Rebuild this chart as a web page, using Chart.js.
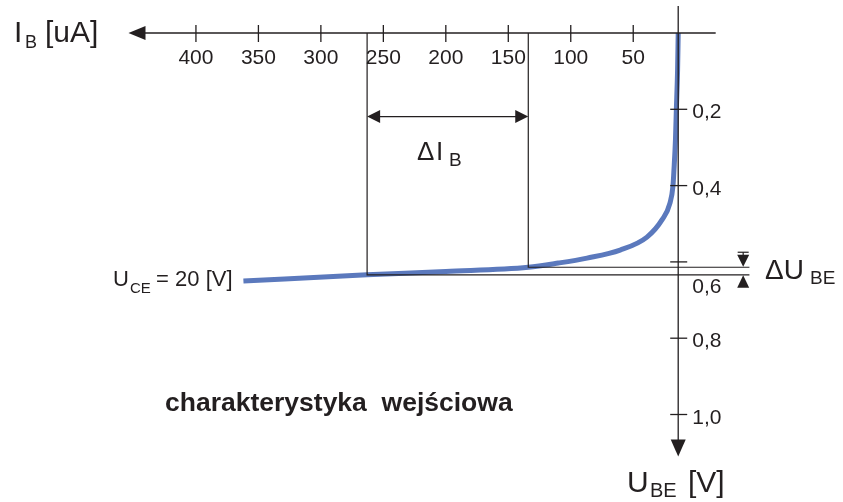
<!DOCTYPE html>
<html><head><meta charset="utf-8">
<script src="https://cdn.jsdelivr.net/npm/chart.js@4.4.1/dist/chart.umd.min.js"></script>
<style>html,body{margin:0;padding:0;background:#fff;overflow:hidden;}</style>
</head><body>
<canvas id="c" width="843" height="502"></canvas>
<script>
// ---- data ----
const ibTicks = [50, 100, 150, 200, 250, 300, 350, 400];
const ibTickLabels = ['50', '100', '150', '200', '250', '300', '350', '400'];
const ubeTicks = [0.2, 0.4, 0.6, 0.8, 1.0];
const ubeTickLabels = ['0,2', '0,4', '0,6', '0,8', '1,0'];
const curveIB  = [14, 14.5, 15.5, 16.2, 17.4, 18.2, 20.6, 27, 39, 60.5, 87, 110, 134, 200, 263, 362];
const curveUBE = [0, 0.097, 0.202, 0.28, 0.359, 0.401, 0.446, 0.49, 0.535, 0.569, 0.59, 0.603, 0.614, 0.625, 0.634, 0.65];
const deltaIB  = [134, 263];        // IB of the two construction lines
const deltaUBE = [0.614, 0.634];    // UBE at those points
const axisOriginIB = 14;            // where the UBE axis crosses the IB axis
const ibAxisExtent = [-16, 454];
const ubeAxisExtent = [-0.071, 1.11];
const constructionRightIB = -43;
const deltaIBArrowUBE = 0.219;
const deltaUBEArrowIB = -38;

const INK = '#231f20';
const BLUE = '#5b79bd';

const pts = (xs, ys) => xs.map((x, i) => ({x, y: ys[i]}));

const overlay = {
  id: 'overlay',
  afterDatasetsDraw(chart) {
    const ctx = chart.ctx, X = chart.scales.x, Y = chart.scales.y;
    const px = v => X.getPixelForValue(v), py = v => Y.getPixelForValue(v);
    ctx.save();
    ctx.strokeStyle = INK; ctx.fillStyle = INK; ctx.lineWidth = 1.3;
    const line = (x1, y1, x2, y2) => { ctx.beginPath(); ctx.moveTo(x1, y1); ctx.lineTo(x2, y2); ctx.stroke(); };
    const tri = (a, b, c) => { ctx.beginPath(); ctx.moveTo(a[0], a[1]); ctx.lineTo(b[0], b[1]); ctx.lineTo(c[0], c[1]); ctx.closePath(); ctx.fill(); };

    // IB axis (horizontal, pointing left)
    const y0 = py(0), xo = px(axisOriginIB);
    const xTip = px(ibAxisExtent[1]);
    line(px(ibAxisExtent[0]), y0, xTip + 10, y0);
    tri([xTip, y0], [xTip + 17, y0 - 7], [xTip + 17, y0 + 7]);
    ctx.font = '21px "Liberation Sans", Arial, sans-serif';
    ctx.textAlign = 'center'; ctx.textBaseline = 'alphabetic';
    ibTicks.forEach((v, i) => {
      const x = px(v);
      line(x, y0 - 8, x, y0 + 9);
      ctx.fillText(ibTickLabels[i], x, y0 + 31);
    });

    // UBE axis (vertical, pointing down)
    const yTip = py(ubeAxisExtent[1]);
    line(xo, py(ubeAxisExtent[0]), xo, yTip - 10);
    tri([xo, yTip], [xo - 7.5, yTip - 17], [xo + 7.5, yTip - 17]);
    ctx.textAlign = 'left';
    ubeTicks.forEach((v, i) => {
      const y = py(v);
      line(xo - 8, y, xo + 9, y);
      ctx.fillText(ubeTickLabels[i], xo + 14, y + (v === 0.6 ? 31 : 9));
    });

    // delta IB arrow
    const ya = py(deltaIBArrowUBE);
    const xl = px(deltaIB[1]), xr = px(deltaIB[0]);
    ctx.lineWidth = 1.2;
    line(xl + 6, ya, xr - 6, ya);
    tri([xl, ya], [xl + 13, ya - 6.5], [xl + 13, ya + 6.5]);
    tri([xr, ya], [xr - 13, ya - 6.5], [xr - 13, ya + 6.5]);

    // delta UBE arrows
    const xu = px(deltaUBEArrowIB);
    const yt = py(deltaUBE[0]), yb = py(deltaUBE[1]);
    line(xu - 5.5, yt - 15, xu + 5.5, yt - 15);
    line(xu, yt - 15, xu, yt - 6);
    tri([xu, yt - 0.5], [xu - 6, yt - 12.5], [xu + 6, yt - 12.5]);
    tri([xu, yb + 0.5], [xu - 6, yb + 13], [xu + 6, yb + 13]);

    // texts
    const F = (s, b) => (b ? 'bold ' : '') + s + 'px "Liberation Sans", Arial, sans-serif';
    const T = (t, x, y, s, b) => { ctx.font = F(s, b); ctx.fillText(t, x, y); };
    ctx.fillStyle = INK; ctx.textAlign = 'left';
    T('I', 14, 42, 30); T('B', 25, 48, 18); T('[uA]', 45, 42, 30);
    T('U', 627, 492, 30); T('BE', 650, 497, 20); T('[V]', 688, 492, 30);
    T('\u0394', 417, 160, 26); T('I', 436, 160, 26); T('B', 449, 166, 19);
    T('\u0394U', 765, 279, 28); T('BE', 810, 284, 19);
    T('U', 113, 286, 22); T('CE', 130, 293, 15); T(' = 20 [V]', 150, 286, 22);
    T('charakterystyka  wej\u015Bciowa', 165, 411, 26.5, true);
    ctx.restore();
  }
};

new Chart(document.getElementById('c'), {
  type: 'scatter',
  data: {
    datasets: [
      { data: pts([deltaIB[1], deltaIB[1], constructionRightIB], [0, deltaUBE[1], deltaUBE[1]]),
        showLine: true, borderColor: INK, borderWidth: 1.2, pointRadius: 0, tension: 0, clip: false },
      { data: pts([deltaIB[0], deltaIB[0], constructionRightIB], [0, deltaUBE[0], deltaUBE[0]]),
        showLine: true, borderColor: INK, borderWidth: 1.2, pointRadius: 0, tension: 0, clip: false },
      { data: pts(curveIB, curveUBE), showLine: true, borderColor: BLUE, borderWidth: 5,
        pointRadius: 0, cubicInterpolationMode: 'monotone', borderCapStyle: 'butt', clip: false }
    ]
  },
  options: {
    responsive: false, animation: false, devicePixelRatio: 1,
    layout: { padding: { left: 71.0, right: 22.36, top: 13.925, bottom: 11.2 } },
    scales: {
      x: { type: 'linear', reverse: true, min: -100, max: 500, display: false },
      y: { type: 'linear', reverse: true, min: -0.05, max: 1.2, display: false }
    },
    plugins: { legend: { display: false }, tooltip: { enabled: false } }
  },
  plugins: [overlay]
});
</script>
</body></html>
